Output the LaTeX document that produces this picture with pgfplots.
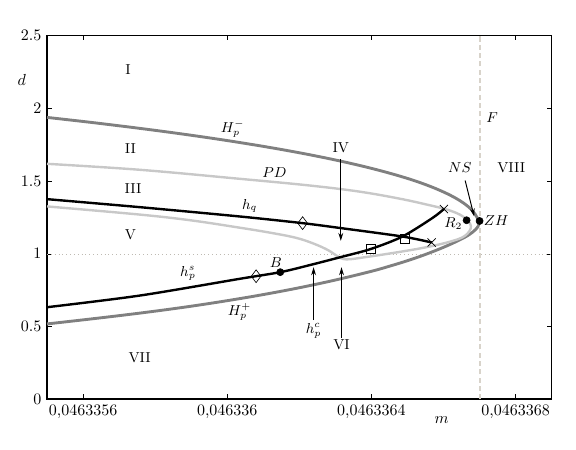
\documentclass[border=0pt]{standalone}
\usepackage{pgfplots}
\pgfplotsset{compat=1.18}
\usetikzlibrary{arrows.meta}
\definecolor{hpgray}{RGB}{128,128,128}
\definecolor{pdgray}{RGB}{200,200,200}
\definecolor{fline}{RGB}{216,211,202}
\definecolor{dline}{RGB}{190,186,178}
\begin{document}
\begin{tikzpicture}
\path[use as bounding box] (-29.4pt,-31.7pt) rectangle (330.6pt,249.55pt);
\begin{axis}[
  scale only axis,
  width=315.4pt, height=227.25pt,
  xmin=5, xmax=19, ymin=0, ymax=2.5,
  xtick={6,10,14,18},
  xticklabels={{0,0463356},{0,046336},{0,0463364},{0,0463368}},
  ytick={0,0.5,1,1.5,2,2.5},
  axis line style={line width=1pt},
  major tick length=3pt,
  tick style={black, thin},
  clip=false,
]
% m axis shifted: u = (m - 0.046335)*1e7
\addplot[dline, thin, dotted] coordinates {(5,1) (19,1)};
\addplot[fline, line width=1.3pt, dash pattern=on 3.2pt off 2pt] coordinates {(17,0) (17,2.5)};

% H_p (outer curve): lower branch, nose, upper branch
\addplot[hpgray, line width=1.8pt, smooth, tension=0.6] coordinates {
(5.0,0.518) (6,0.546) (7,0.575) (8,0.606) (9,0.640) (10,0.678) (11,0.720)
(12,0.767) (13,0.82) (14,0.88) (14.5,0.915) (15,0.953) (15.5,0.996) (16,1.045)
(16.4,1.09) (16.7,1.13) (16.9,1.17) (16.98,1.205)
(16.93,1.25) (16.79,1.3) (16.55,1.35) (16.21,1.4) (15.77,1.45) (15.23,1.5)
(14.57,1.55) (13.80,1.6) (12.91,1.65) (11.89,1.7) (10.73,1.75) (9.43,1.8)
(7.97,1.85) (6.35,1.9) (5.0,1.938)};

% PD
\addplot[pdgray, line width=1.5pt, smooth, tension=0.6] coordinates {
(5.0,1.619) (7.57,1.578) (10.34,1.516) (12.28,1.47) (13.66,1.428) (14.77,1.38)
(15.6,1.335) (16.15,1.30) (16.55,1.255) (16.76,1.19) (16.6,1.125) (16.2,1.085)
(15.51,1.045) (14.7,1.01) (13.85,0.978) (13.3,0.962) (13.05,0.985) (12.8,1.025)
(12.4,1.07) (11.91,1.11) (11.2,1.145) (10.34,1.18) (9.0,1.23) (7.57,1.27) (5.0,1.326)};

% h_q
\addplot[black, line width=1.5pt, smooth] coordinates {
(5.0,1.376) (7.57,1.321) (10.34,1.257) (12.09,1.211) (13.15,1.177) (14.86,1.119) (15.67,1.078)};

% h_p^s
\addplot[black, line width=1.5pt, smooth] coordinates {
(5.0,0.633) (7.57,0.713) (10.34,0.828) (11.47,0.874) (12.28,0.922) (13.2,0.981)
(13.99,1.034) (14.86,1.119) (15.69,1.246) (16.01,1.308)};

% markers
\addplot[only marks, mark=diamond, mark size=4pt, mark options={black, thin, fill=white}] coordinates {(12.09,1.211) (10.80,0.846)};
\addplot[only marks, mark=square, mark size=2.7pt, mark options={black, thin, fill=white}] coordinates {(13.99,1.034) (14.93,1.105)};
\addplot[only marks, mark=x, mark size=3.6pt, mark options={black, thin}] coordinates {(16.01,1.308) (15.67,1.078)};
\addplot[only marks, mark=*, mark size=2.2pt, mark options={black}] coordinates {(11.47,0.874) (16.64,1.231) (17.0,1.226)};

% arrows
\draw[-{Stealth[length=5pt,width=3pt]}, line width=0.6pt] (axis cs:13.15,1.652) -- (axis cs:13.15,1.089);
\draw[-{Stealth[length=5pt,width=3pt]}, line width=0.6pt] (axis cs:12.395,0.545) -- (axis cs:12.395,0.908);
\draw[-{Stealth[length=5pt,width=3pt]}, line width=0.6pt] (axis cs:13.17,0.42) -- (axis cs:13.17,0.908);
\draw[-{Stealth[length=5pt,width=3pt]}, line width=0.6pt] (axis cs:16.60,1.504) -- (axis cs:16.85,1.257);

% labels
\begin{scope}[font=\small]
\node at (axis cs:7.246,2.266) {I};
\node at (axis cs:7.312,1.721) {II};
\node at (axis cs:7.384,1.452) {III};
\node at (axis cs:7.312,1.131) {V};
\node at (axis cs:7.57,0.289) {VII};
\node at (axis cs:13.15,1.727) {IV};
\node at (axis cs:13.17,0.374) {VI};
\node at (axis cs:17.88,1.59) {VIII};
\node at (axis cs:17.35,1.938) {$F$};
\node at (axis cs:16.45,1.59) {$NS$};
\node at (axis cs:16.27,1.206) {$R_2$};
\node at (axis cs:17.46,1.232) {$ZH$};
\node at (axis cs:10.15,1.858) {$H_p^-$};
\node at (axis cs:11.31,1.56) {$PD$};
\node at (axis cs:10.62,1.33) {$h_q$};
\node at (axis cs:8.91,0.865) {$h_p^s$};
\node at (axis cs:11.35,0.94) {$B$};
\node at (axis cs:10.34,0.6) {$H_p^+$};
\node at (axis cs:12.395,0.47) {$h_p^c$};
\end{scope}
\node at (axis description cs:0.782,-0.057) {$m$};
\node at (axis description cs:-0.050,0.878) {$d$};
\end{axis}
\end{tikzpicture}
\end{document}
